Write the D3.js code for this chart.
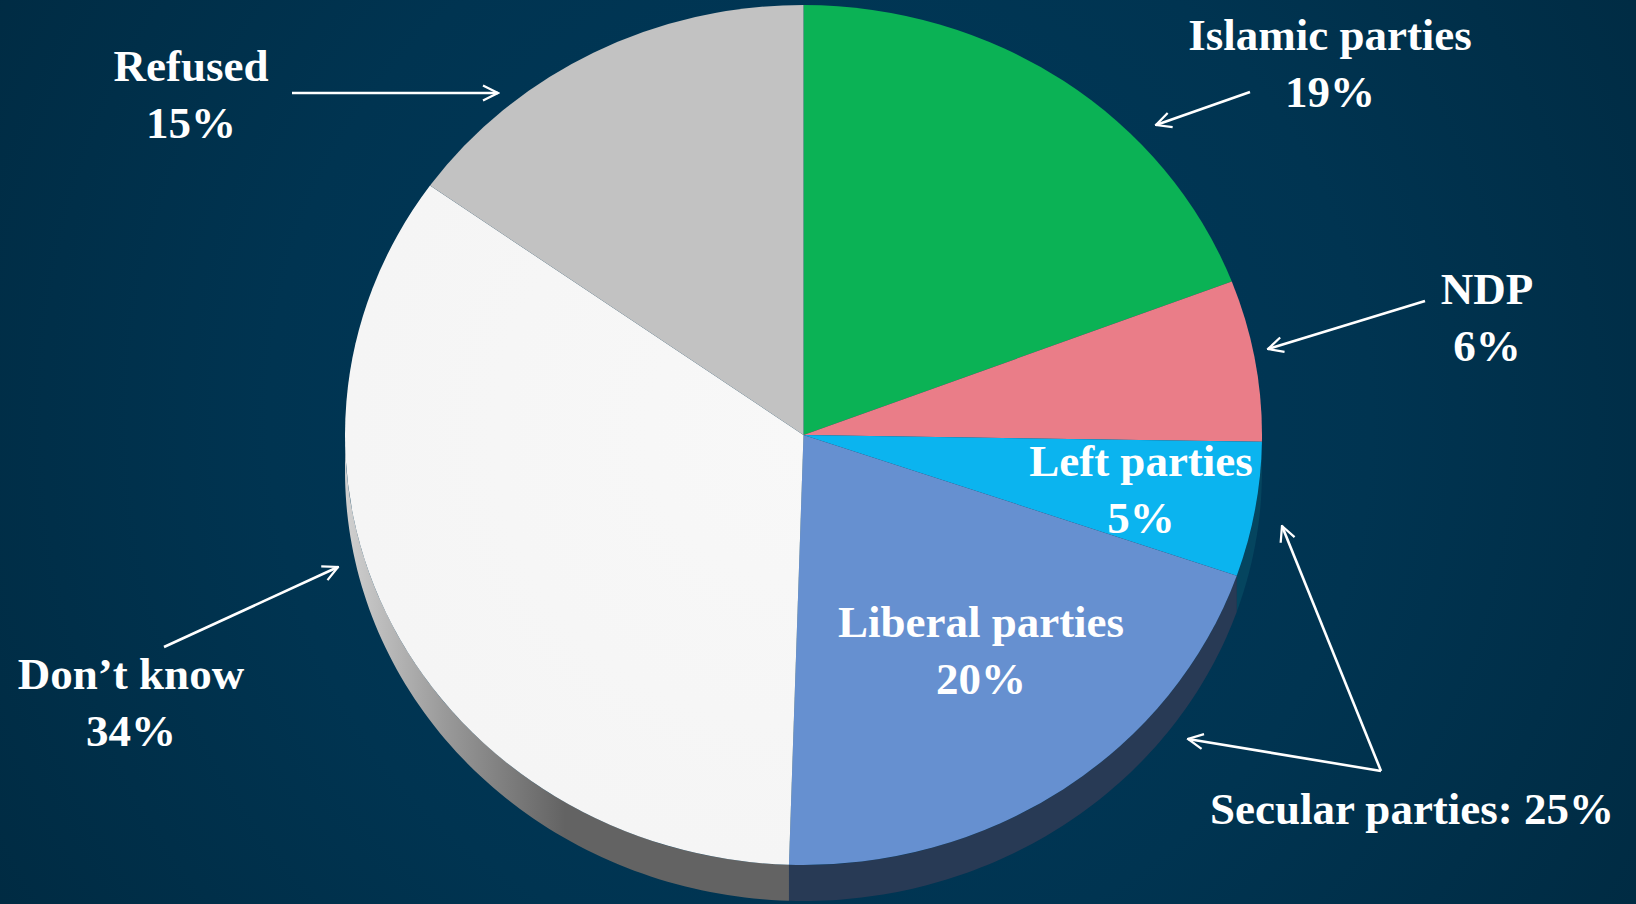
<!DOCTYPE html>
<html>
<head>
<meta charset="utf-8">
<script src="https://cdn.jsdelivr.net/npm/d3@7"></script>
<style>
  html, body { margin: 0; padding: 0; background: #002d45; }
  svg { display: block; }
</style>
</head>
<body>
<svg id="chart" width="1636" height="904"></svg>
<script>
// ---- data ----
const categories = ["Islamic parties", "NDP", "Left parties", "Liberal parties", "Don’t know", "Refused"];
const values = [19, 6, 5, 20, 34, 15];
const valueLabels = ["19%", "6%", "5%", "20%", "34%", "15%"];
const groupLabel = "Secular parties: 25%";

// ---- styles ----
const topColors = ["#0bb255", "#ea7d88", "#0bb4ef", "#6690d0", "#f7f7f7", "#c2c2c2"];
const sideColors = ["#07753a", "#a85660", "#05455f", "#283a55", "url(#sideGrad)", "#8a8a8a"];

const W = 1636, H = 904;
const cx = 803.5, cy = 435, rx = 458.5, ry = 430, depth = 36;

const svg = d3.select("#chart");
const defs = svg.append("defs");

const bg = defs.append("radialGradient").attr("id", "bgGrad")
  .attr("gradientUnits", "userSpaceOnUse")
  .attr("cx", 820).attr("cy", 420).attr("r", 1000);
bg.append("stop").attr("offset", "0").attr("stop-color", "#003a5c");
bg.append("stop").attr("offset", "0.55").attr("stop-color", "#003451");
bg.append("stop").attr("offset", "1").attr("stop-color", "#002a41");

// side gradient defined in the translated group's local coordinates
const sg = defs.append("linearGradient").attr("id", "sideGrad")
  .attr("gradientUnits", "userSpaceOnUse")
  .attr("x1", -rx).attr("y1", 0).attr("x2", -rx + 220).attr("y2", 0);
sg.append("stop").attr("offset", "0").attr("stop-color", "#d0d0d0");
sg.append("stop").attr("offset", "0.45").attr("stop-color", "#9a9a9a");
sg.append("stop").attr("offset", "1").attr("stop-color", "#636363");

const wg = defs.append("radialGradient").attr("id", "whiteGrad")
  .attr("gradientUnits", "userSpaceOnUse")
  .attr("cx", 0).attr("cy", 0).attr("r", rx);
wg.append("stop").attr("offset", "0").attr("stop-color", "#f8f8f8");
wg.append("stop").attr("offset", "1").attr("stop-color", "#f5f5f5");

const mk = defs.append("marker").attr("id", "arrow")
  .attr("viewBox", "0 0 12 12").attr("refX", 11).attr("refY", 6)
  .attr("markerWidth", 18).attr("markerHeight", 18)
  .attr("markerUnits", "userSpaceOnUse").attr("orient", "auto");
mk.append("path").attr("d", "M1,1 L11,6 L1,11").attr("fill", "none")
  .attr("stroke", "#ffffff").attr("stroke-width", 1.5);

svg.append("rect").attr("width", W).attr("height", H).attr("fill", "url(#bgGrad)");

const pie = d3.pie().sort(null).value(d => d)(values);
const arc = d3.arc().innerRadius(0).outerRadius(rx);

// ---- sides (3D extrusion) ----
const sideG = svg.append("g").attr("transform", `translate(${cx},${cy})`);
const line = d3.line();
pie.forEach((p, i) => {
  const a0 = Math.max(p.startAngle, Math.PI / 2);
  const a1 = Math.min(p.endAngle, 3 * Math.PI / 2);
  if (a1 <= a0) return;
  const n = 80;
  const top = d3.range(n + 1).map(k => {
    const t = a0 + (a1 - a0) * k / n;
    return [rx * Math.sin(t), -ry * Math.cos(t)];
  });
  const bot = top.slice().reverse().map(([x, y]) => [x, y + depth]);
  sideG.append("path").attr("d", line(top.concat(bot)) + "Z")
    .attr("fill", sideColors[i]);
});

// ---- top face ----
const topG = svg.append("g").attr("transform", `translate(${cx},${cy}) scale(1,${ry / rx})`);
topG.selectAll("path").data(pie).join("path")
  .attr("d", arc)
  .attr("fill", (d, i) => i === 4 ? "url(#whiteGrad)" : topColors[i]);

// ---- labels ----
const font = "'Liberation Serif', 'Times New Roman', serif";
const labelPos = [
  { x: 1330, y: 50 },   // Islamic
  { x: 1487, y: 304 },  // NDP
  { x: 1141, y: 476 },  // Left
  { x: 981, y: 637 },   // Liberal
  { x: 131, y: 689 },   // Don't know
  { x: 191, y: 81 }     // Refused
];
const lineGap = 57;
const labels = svg.append("g").attr("font-family", font).attr("font-weight", "bold")
  .attr("font-size", 45).attr("fill", "#ffffff").attr("text-anchor", "middle");
categories.forEach((c, i) => {
  labels.append("text").attr("x", labelPos[i].x).attr("y", labelPos[i].y).text(c);
  labels.append("text").attr("x", labelPos[i].x).attr("y", labelPos[i].y + lineGap).text(valueLabels[i]);
});
labels.append("text").attr("x", 1412).attr("y", 824).text(groupLabel);

// ---- arrows ----
const arrows = [
  [[292, 93], [498, 93]],
  [[1250, 92], [1156, 125]],
  [[1425, 301], [1268, 349]],
  [[164, 647], [338, 567]],
  [[1381, 771], [1188, 739]],
  [[1381, 771], [1282, 526]]
];
svg.append("g").selectAll("line").data(arrows).join("line")
  .attr("x1", d => d[0][0]).attr("y1", d => d[0][1])
  .attr("x2", d => d[1][0]).attr("y2", d => d[1][1])
  .attr("stroke", "#ffffff").attr("stroke-width", 2.6)
  .attr("marker-end", "url(#arrow)");
</script>
</body>
</html>
